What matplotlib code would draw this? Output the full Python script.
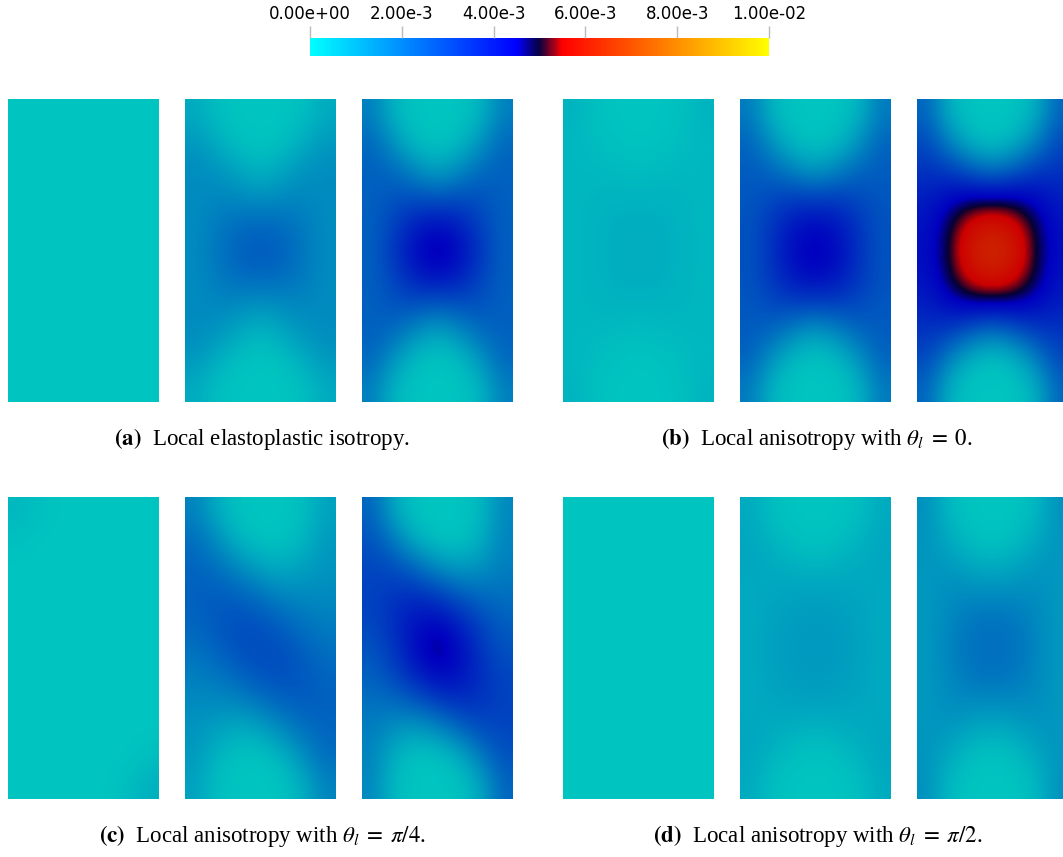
import numpy as np
from matplotlib import pyplot as plt
from matplotlib.colors import LinearSegmentedColormap
import matplotlib as mpl

mpl.rcParams['font.family'] = 'Liberation Serif'
mpl.rcParams['mathtext.fontset'] = 'stix'

# colour scale (values in units of 1e-3)
cbar_ticks = [0, 2, 4, 6, 8, 10]
cbar_labels = ['0.00e+00', '2.00e-3', '4.00e-3', '6.00e-3', '8.00e-3', '1.00e-02']
cmap_pos = [0.0, 0.45, 0.5, 0.55, 1.0]
cmap_cols = ['#00ffff', '#0000ff', '#0a0040', '#ff0000', '#ffff00']

# field values, rows top -> bottom, 7 columns left -> right (x 1e-3)
a1 = [[0.0, 0.0], [0.0, 0.0]]
a2 = [[0.6, 0.1, 0.0, 0.0, 0.0, 0.1, 0.6],
      [1.0, 0.5, 0.05, 0.0, 0.05, 0.5, 1.0],
      [1.3, 1.1, 0.65, 0.3, 0.65, 1.1, 1.3],
      [1.3, 1.4, 1.3, 1.1, 1.3, 1.4, 1.3],
      [1.3, 1.7, 2.0, 2.1, 2.0, 1.7, 1.3],
      [1.3, 1.8, 2.3, 2.5, 2.3, 1.8, 1.3],
      [1.3, 1.7, 2.0, 2.1, 2.0, 1.7, 1.3],
      [1.3, 1.4, 1.3, 1.1, 1.3, 1.4, 1.3],
      [1.3, 1.1, 0.65, 0.3, 0.65, 1.1, 1.3],
      [1.0, 0.5, 0.05, 0.0, 0.05, 0.5, 1.0],
      [0.6, 0.1, 0.0, 0.0, 0.0, 0.1, 0.6]]
a3 = [[1.6, 0.3, 0.0, 0.0, 0.0, 0.3, 1.6],
      [2.1, 1.0, 0.1, 0.0, 0.1, 1.0, 2.1],
      [2.3, 2.0, 1.2, 0.6, 1.2, 2.0, 2.3],
      [2.3, 2.6, 2.6, 2.4, 2.6, 2.6, 2.3],
      [2.3, 3.0, 3.8, 4.1, 3.8, 3.0, 2.3],
      [2.3, 3.3, 4.3, 4.9, 4.3, 3.3, 2.3],
      [2.3, 3.0, 3.8, 4.1, 3.8, 3.0, 2.3],
      [2.3, 2.6, 2.6, 2.4, 2.6, 2.6, 2.3],
      [2.3, 2.0, 1.2, 0.6, 1.2, 2.0, 2.3],
      [2.1, 1.0, 0.1, 0.0, 0.1, 1.0, 2.1],
      [1.6, 0.3, 0.0, 0.0, 0.0, 0.3, 1.6]]
b1 = [[0.4, 0.1, 0.0, 0.0, 0.0, 0.1, 0.4],
      [0.3, 0.15, 0.05, 0.0, 0.05, 0.15, 0.3],
      [0.3, 0.3, 0.2, 0.15, 0.2, 0.3, 0.3],
      [0.3, 0.35, 0.4, 0.4, 0.4, 0.35, 0.3],
      [0.3, 0.4, 0.5, 0.5, 0.5, 0.4, 0.3],
      [0.3, 0.4, 0.5, 0.55, 0.5, 0.4, 0.3],
      [0.3, 0.4, 0.5, 0.5, 0.5, 0.4, 0.3],
      [0.3, 0.35, 0.4, 0.4, 0.4, 0.35, 0.3],
      [0.3, 0.3, 0.2, 0.15, 0.2, 0.3, 0.3],
      [0.3, 0.15, 0.05, 0.0, 0.05, 0.15, 0.3],
      [0.4, 0.1, 0.0, 0.0, 0.0, 0.1, 0.4]]
b2 = [[1.7, 0.3, 0.0, 0.0, 0.0, 0.3, 1.7],
      [2.2, 1.0, 0.15, 0.0, 0.15, 1.0, 2.2],
      [2.4, 2.1, 1.3, 0.8, 1.3, 2.1, 2.4],
      [2.5, 2.8, 3.0, 2.9, 3.0, 2.8, 2.5],
      [2.6, 3.3, 4.0, 4.3, 4.0, 3.3, 2.6],
      [2.6, 3.4, 4.3, 4.7, 4.3, 3.4, 2.6],
      [2.6, 3.3, 4.0, 4.3, 4.0, 3.3, 2.6],
      [2.5, 2.8, 3.0, 2.9, 3.0, 2.8, 2.5],
      [2.4, 2.1, 1.3, 0.8, 1.3, 2.1, 2.4],
      [2.2, 1.0, 0.15, 0.0, 0.15, 1.0, 2.2],
      [1.7, 0.3, 0.0, 0.0, 0.0, 0.3, 1.7]]
b3 = [[2.2, 0.4, 0.0, 0.0, 0.0, 0.4, 2.2],
      [2.8, 1.4, 0.3, 0.0, 0.3, 1.4, 2.8],
      [3.3, 3.0, 2.2, 1.6, 2.2, 3.0, 3.3],
      [3.8, 4.3, 4.6, 4.6, 4.6, 4.3, 3.8],
      [4.1, 4.95, 5.7, 6.0, 5.7, 4.95, 4.1],
      [4.2, 5.05, 6.1, 6.5, 6.1, 5.05, 4.2],
      [4.1, 4.95, 5.7, 6.0, 5.7, 4.95, 4.1],
      [3.8, 4.3, 4.6, 4.6, 4.6, 4.3, 3.8],
      [3.3, 3.0, 2.2, 1.6, 2.2, 3.0, 3.3],
      [2.8, 1.4, 0.3, 0.0, 0.3, 1.4, 2.8],
      [2.2, 0.4, 0.0, 0.0, 0.0, 0.4, 2.2]]
c1 = [[0.3, 0.1, 0.0, 0.0, 0.0, 0.0, 0.0],
      [0.1, 0.0, 0.0, 0.0, 0.0, 0.0, 0.0],
      [0.0, 0.0, 0.0, 0.0, 0.0, 0.0, 0.0],
      [0.0, 0.0, 0.0, 0.0, 0.0, 0.0, 0.0],
      [0.0, 0.0, 0.0, 0.0, 0.0, 0.0, 0.0],
      [0.0, 0.0, 0.0, 0.0, 0.0, 0.0, 0.0],
      [0.0, 0.0, 0.0, 0.0, 0.0, 0.0, 0.0],
      [0.0, 0.0, 0.0, 0.0, 0.0, 0.0, 0.0],
      [0.0, 0.0, 0.0, 0.0, 0.0, 0.0, 0.0],
      [0.0, 0.0, 0.0, 0.0, 0.0, 0.0, 0.15],
      [0.0, 0.0, 0.0, 0.0, 0.0, 0.15, 0.5]]
c2 = [[1.5, 0.5, 0.0, 0.0, 0.0, 0.1, 0.8],
      [2.0, 1.2, 0.3, 0.0, 0.0, 0.3, 1.0],
      [2.2, 1.9, 1.3, 0.7, 0.5, 0.8, 1.1],
      [2.3, 2.4, 2.2, 1.8, 1.4, 1.3, 1.3],
      [2.2, 2.5, 2.7, 2.6, 2.2, 1.8, 1.6],
      [1.9, 2.3, 2.7, 2.8, 2.7, 2.3, 1.9],
      [1.6, 1.8, 2.2, 2.6, 2.7, 2.5, 2.2],
      [1.3, 1.3, 1.4, 1.8, 2.2, 2.4, 2.3],
      [1.1, 0.8, 0.5, 0.7, 1.3, 1.9, 2.2],
      [1.0, 0.3, 0.0, 0.0, 0.3, 1.2, 2.0],
      [0.8, 0.1, 0.0, 0.0, 0.0, 0.5, 1.5]]
c3 = [[2.2, 0.6, 0.0, 0.0, 0.0, 0.2, 1.4],
      [2.6, 1.6, 0.4, 0.0, 0.0, 0.4, 1.5],
      [2.9, 2.7, 2.0, 1.2, 0.8, 1.1, 1.6],
      [3.0, 3.3, 3.4, 3.0, 2.4, 2.0, 1.9],
      [2.9, 3.5, 4.1, 4.3, 3.7, 2.9, 2.3],
      [2.6, 3.3, 4.3, 5.0, 4.3, 3.3, 2.6],
      [2.3, 2.9, 3.7, 4.3, 4.1, 3.5, 2.9],
      [1.9, 2.0, 2.4, 3.0, 3.4, 3.3, 3.0],
      [1.6, 1.1, 0.8, 1.2, 2.0, 2.7, 2.9],
      [1.5, 0.4, 0.0, 0.0, 0.4, 1.6, 2.6],
      [1.4, 0.2, 0.0, 0.0, 0.0, 0.6, 2.2]]
d1 = [[0.0, 0.0], [0.0, 0.0]]
d2 = [[0.6, 0.1, 0.0, 0.0, 0.0, 0.1, 0.6],
      [0.7, 0.35, 0.1, 0.0, 0.1, 0.35, 0.7],
      [0.7, 0.6, 0.45, 0.35, 0.45, 0.6, 0.7],
      [0.6, 0.7, 0.8, 0.8, 0.8, 0.7, 0.6],
      [0.6, 0.8, 0.9, 1.0, 0.9, 0.8, 0.6],
      [0.6, 0.8, 1.0, 1.0, 1.0, 0.8, 0.6],
      [0.6, 0.8, 0.9, 1.0, 0.9, 0.8, 0.6],
      [0.6, 0.7, 0.8, 0.8, 0.8, 0.7, 0.6],
      [0.7, 0.6, 0.45, 0.35, 0.45, 0.6, 0.7],
      [0.7, 0.35, 0.1, 0.0, 0.1, 0.35, 0.7],
      [0.6, 0.1, 0.0, 0.0, 0.0, 0.1, 0.6]]
d3 = [[1.2, 0.2, 0.0, 0.0, 0.0, 0.2, 1.2],
      [1.1, 0.6, 0.1, 0.0, 0.1, 0.6, 1.1],
      [1.1, 1.0, 0.7, 0.5, 0.7, 1.0, 1.1],
      [1.0, 1.3, 1.3, 1.3, 1.3, 1.3, 1.0],
      [1.0, 1.4, 1.8, 1.9, 1.8, 1.4, 1.0],
      [1.0, 1.5, 1.9, 2.0, 1.9, 1.5, 1.0],
      [1.0, 1.4, 1.8, 1.9, 1.8, 1.4, 1.0],
      [1.0, 1.3, 1.3, 1.3, 1.3, 1.3, 1.0],
      [1.1, 1.0, 0.7, 0.5, 0.7, 1.0, 1.1],
      [1.1, 0.6, 0.1, 0.0, 0.1, 0.6, 1.1],
      [1.2, 0.2, 0.0, 0.0, 0.0, 0.2, 1.2]]

captions = [r'$\mathbf{(a)}$  Local elastoplastic isotropy.',
            r'$\mathbf{(b)}$  Local anisotropy with $\theta_l\;=\;0$.',
            r'$\mathbf{(c)}$  Local anisotropy with $\theta_l\;=\;\pi/4$.',
            r'$\mathbf{(d)}$  Local anisotropy with $\theta_l\;=\;\pi/2$.']

cmap = LinearSegmentedColormap.from_list('pv', list(zip(cmap_pos, cmap_cols)), N=512)
# the rendered panels are shaded a bit darker than the legend bar
shade = np.array([0.80, 0.77, 0.75])
cols = cmap(np.linspace(0, 1, 512))
cols[:, :3] *= shade
panel_cmap = LinearSegmentedColormap.from_list('pv_shaded', cols, N=512)
panel_cmap.set_under(cols[0])

W, H = 1063, 857
fig = plt.figure(figsize=(W / 100, H / 100), dpi=100)

def px_axes(x0, y0, x1, y1):
    return fig.add_axes([x0 / W, 1 - y1 / H, (x1 - x0) / W, (y1 - y0) / H])

col_x = [8, 185, 362, 563, 740, 917]
pw = 151
rows = [(99, 402, [a1, a2, a3, b1, b2, b3]),
        (497, 799, [c1, c2, c3, d1, d2, d3])]
for y0, y1, fields in rows:
    for x0, f in zip(col_x, fields):
        ax = px_axes(x0, y0, x0 + pw, y1)
        ax.imshow(np.array(f), cmap=panel_cmap, vmin=0, vmax=10,
                  interpolation='bicubic', aspect='auto')
        ax.axis('off')

cap_pos = [(262, 439), (817, 439), (262, 836), (818, 836)]
for (cx, cy), txt in zip(cap_pos, captions):
    fig.text(cx / W, 1 - cy / H, txt, ha='center', va='center', fontsize=16.5)

# legend bar
cax = px_axes(310, 38, 769, 56)
sm = mpl.cm.ScalarMappable(norm=mpl.colors.Normalize(0, 10), cmap=cmap)
cb = fig.colorbar(sm, cax=cax, orientation='horizontal')
cb.outline.set_visible(False)
cax.xaxis.set_ticks_position('top')
cb.set_ticks(cbar_ticks)
cb.set_ticklabels(cbar_labels)
cax.tick_params(axis='x', length=9, width=1, color='#bbbbbb', pad=2,
                labelsize=12, labelfontfamily='DejaVu Sans')

plt.savefig('out.png', dpi=100)
